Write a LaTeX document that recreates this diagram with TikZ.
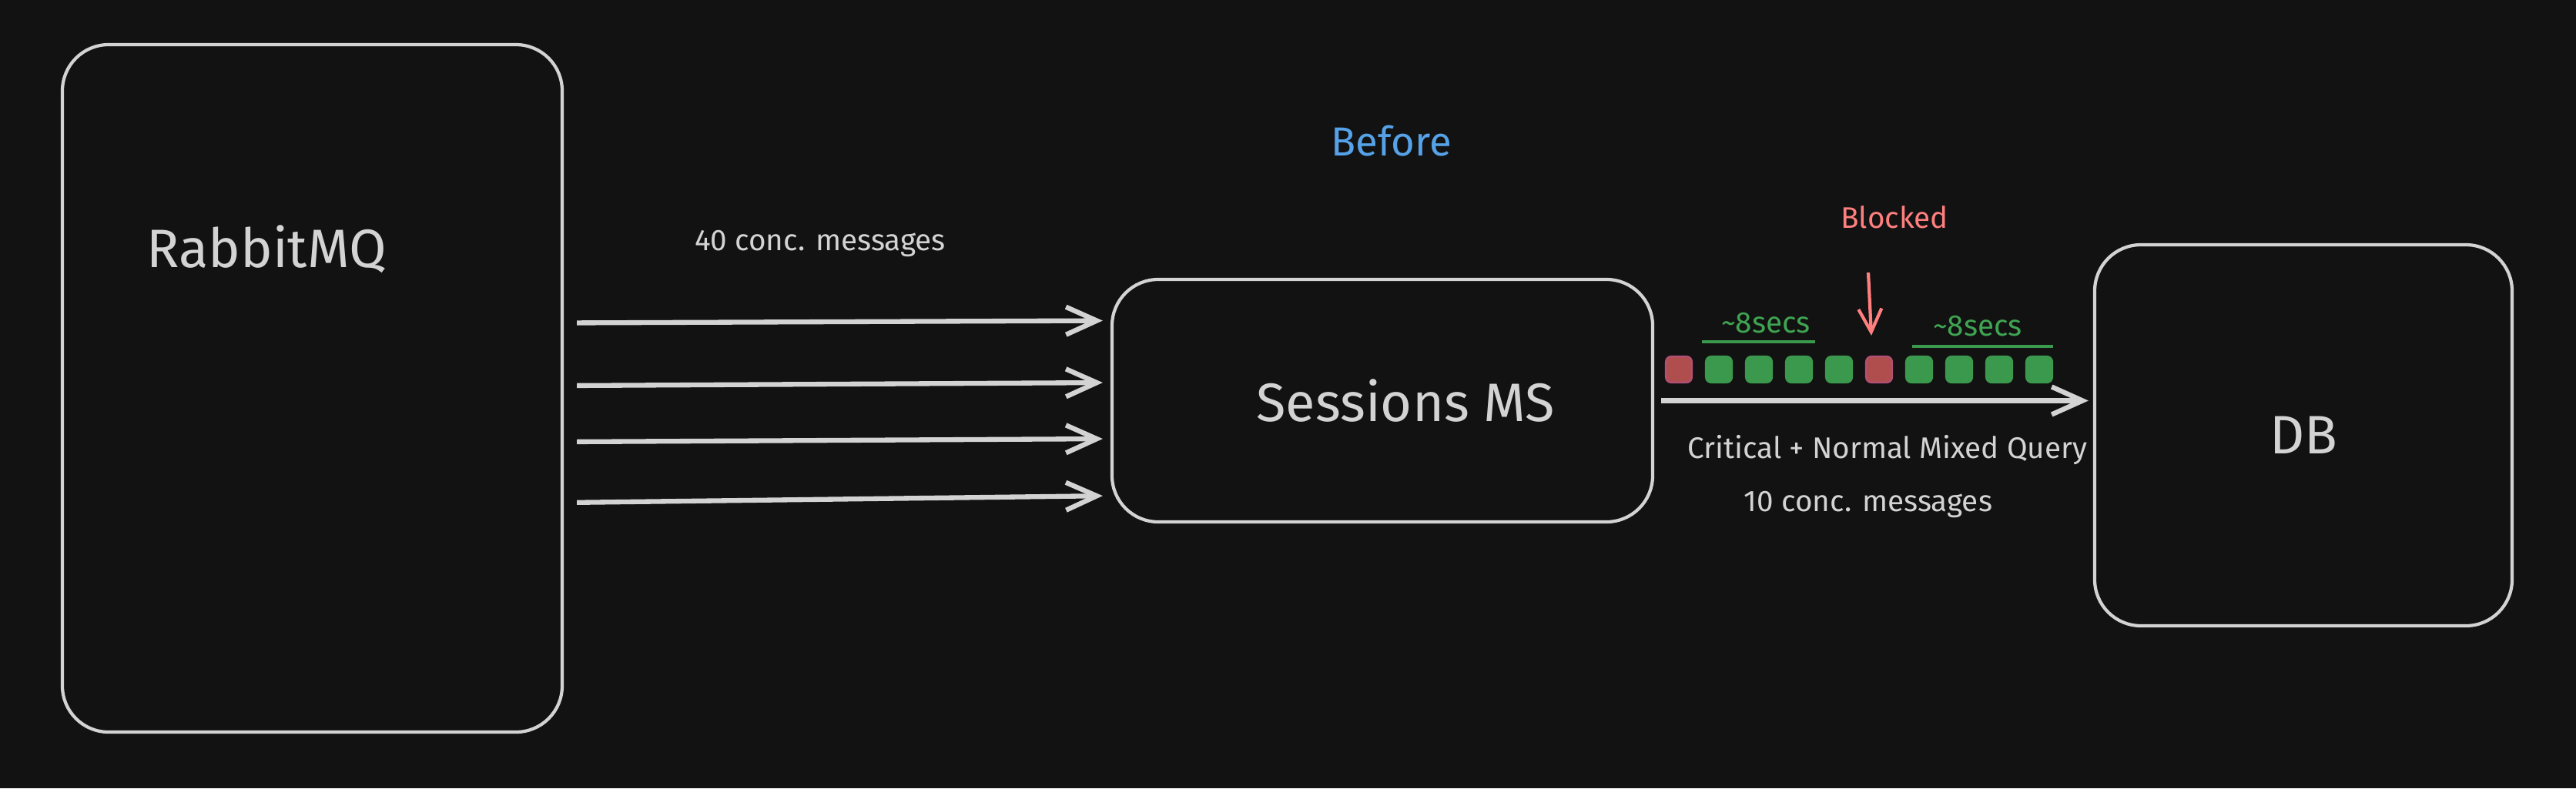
\documentclass[tikz,border=0pt]{standalone}
\usepackage{fontspec}
\setmainfont{Fira Sans}
\usetikzlibrary{arrows.meta,positioning}
\definecolor{bg}{HTML}{121212}
\definecolor{ink}{HTML}{D3D3D3}
\definecolor{okgreen}{HTML}{3A994C}
\definecolor{oktext}{HTML}{3FA452}
\definecolor{badred}{HTML}{B04E4E}
\definecolor{badedge}{HTML}{B24F78}
\definecolor{alert}{HTML}{FF7F7F}
\definecolor{headline}{HTML}{56A2E8}
\tikzstyle{box}=[draw=ink, line width=1.2pt, rounded corners=0.6cm, text=ink]
\tikzstyle{connect}=[draw=ink, line width=1.8pt, -{Straight Barb[length=0.4cm,width=0.36cm]}]
\tikzstyle{cell}=[rounded corners=0.07cm, minimum size=0.34cm, inner sep=0pt]
\tikzstyle{note}=[text=ink, font=\notefont]
\newcommand{\boxfont}{\fontsize{20}{24}\selectfont}
\newcommand{\notefont}{\fontsize{11}{13}\selectfont}

\begin{document}
\begin{tikzpicture}

    \fill[bg] (0,0) rectangle (33.45,-10.24);
    \useasboundingbox (0,0) rectangle (33.45,-10.24);

    % services
    \node[box, minimum width=6.49cm, minimum height=8.93cm] (rmq) at (4.055,-5.045) {};
    \node[text=ink, anchor=west, font=\boxfont] (rmqname) at (1.78,-3.24) {RabbitMQ};
    \node[box, minimum width=7.02cm, minimum height=3.15cm, font=\boxfont] (sess) at (17.95,-5.205) {\hspace*{0.6cm}Sessions MS};
    \node[box, minimum width=5.42cm, minimum height=4.95cm, font=\boxfont] (db) at (29.91,-5.655) {DB};

    % texts
    \node[text=headline, font=\fontsize{15}{18}\selectfont] (before) at (18.07,-1.83) {Before};
    \node[note] (incount) at (10.65,-3.16) {40 conc. messages};
    \node[note] (mixed) at (24.51,-5.85) {Critical + Normal Mixed Query};
    \node[note] (outcount) at (24.26,-6.55) {10 conc. messages};
    \node[text=alert, font=\notefont] (blocked) at (24.60,-2.82) {Blocked};

    % queued queries
    \foreach \i/\c/\e in {0/badred/badedge, 1/okgreen/okgreen, 2/okgreen/okgreen,
        3/okgreen/okgreen, 4/okgreen/okgreen, 5/badred/badedge, 6/okgreen/okgreen,
        7/okgreen/okgreen, 8/okgreen/okgreen, 9/okgreen/okgreen}
        \node[cell, fill=\c, draw=\e, line width=0.6pt] (q\i) at (21.80+0.52*\i,-4.80) {};

    % timings
    \node[text=oktext, font=\notefont] (t1) at (22.93,-4.20) {\textasciitilde8secs};
    \node[text=oktext, font=\notefont] (t2) at (25.68,-4.24) {\textasciitilde8secs};
    \draw[okgreen, line width=1.2pt] (22.10,-4.44) -- (23.57,-4.44);
    \draw[okgreen, line width=1.2pt] (24.83,-4.50) -- (26.66,-4.50);

    % Connect the nodes
    \foreach \a/\b in {0.85/1.04, 0.035/0.235, -0.695/-0.495, -1.485/-1.235}
        \draw[connect, shorten <=0.17cm, shorten >=0.1cm] ([yshift=\a cm]rmq.east) -- ([yshift=\b cm]sess.west);
    \draw[connect, shorten <=0.09cm, shorten >=0.06cm] (sess.east) -- (sess.east -| db.west);
    \draw[alert, line width=1.2pt, -{Straight Barb[length=0.3cm,width=0.3cm]}]
        ([xshift=-0.34cm,yshift=-0.45cm]blocked.south) -- ([xshift=-0.10cm,yshift=0.26cm]q5.north);

\end{tikzpicture}
\end{document}
